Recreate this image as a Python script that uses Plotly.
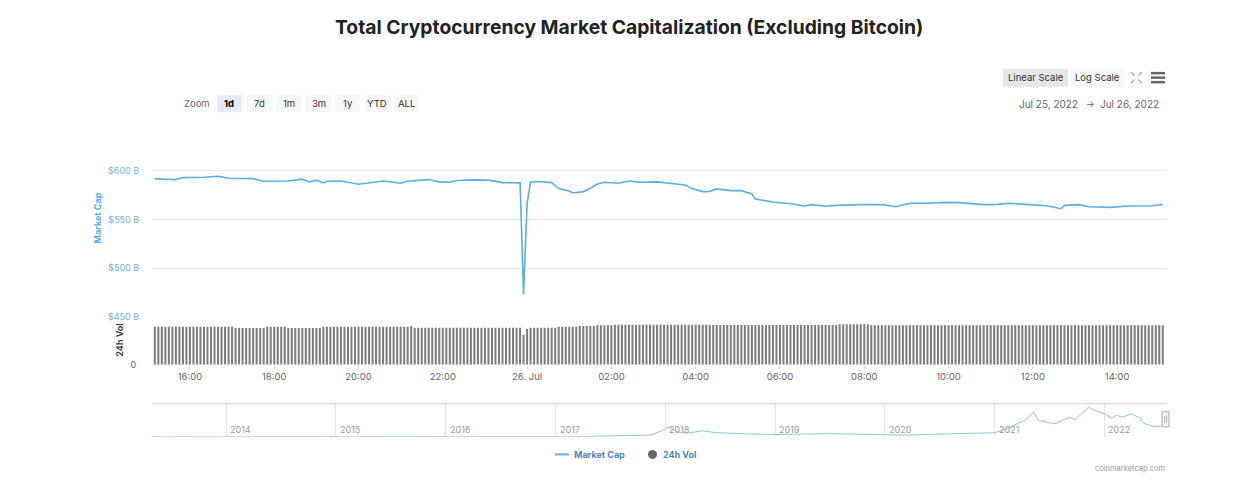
import plotly.graph_objects as go
import pandas as pd

# ---------------- data ----------------
cap_times = [
    "2022-07-25 15:10", "2022-07-25 15:40", "2022-07-25 15:50", "2022-07-25 16:20", "2022-07-25 16:40",
    "2022-07-25 16:55", "2022-07-25 17:30", "2022-07-25 17:45", "2022-07-25 18:20", "2022-07-25 18:40",
    "2022-07-25 18:50", "2022-07-25 19:00", "2022-07-25 19:10", "2022-07-25 19:15", "2022-07-25 19:35",
    "2022-07-25 20:00", "2022-07-25 20:35", "2022-07-25 21:00", "2022-07-25 21:10", "2022-07-25 21:40",
    "2022-07-25 21:55", "2022-07-25 22:10", "2022-07-25 22:20", "2022-07-25 22:45", "2022-07-25 23:05",
    "2022-07-25 23:25", "2022-07-25 23:50", "2022-07-25 23:55", "2022-07-26 00:00", "2022-07-26 00:05",
    "2022-07-26 00:15", "2022-07-26 00:35", "2022-07-26 00:45", "2022-07-26 01:00", "2022-07-26 01:05",
    "2022-07-26 01:20", "2022-07-26 01:30", "2022-07-26 01:40", "2022-07-26 01:50", "2022-07-26 02:10",
    "2022-07-26 02:25", "2022-07-26 02:40", "2022-07-26 03:05", "2022-07-26 03:25", "2022-07-26 03:45",
    "2022-07-26 03:55", "2022-07-26 04:10", "2022-07-26 04:20", "2022-07-26 04:30", "2022-07-26 04:50",
    "2022-07-26 05:05", "2022-07-26 05:20", "2022-07-26 05:25", "2022-07-26 05:50", "2022-07-26 06:15",
    "2022-07-26 06:35", "2022-07-26 06:45", "2022-07-26 07:05", "2022-07-26 07:20", "2022-07-26 07:55",
    "2022-07-26 08:25", "2022-07-26 08:45", "2022-07-26 09:05", "2022-07-26 09:30", "2022-07-26 10:00",
    "2022-07-26 10:15", "2022-07-26 10:50", "2022-07-26 11:10", "2022-07-26 11:25", "2022-07-26 11:50",
    "2022-07-26 12:20", "2022-07-26 12:40", "2022-07-26 12:45", "2022-07-26 13:05", "2022-07-26 13:20",
    "2022-07-26 13:50", "2022-07-26 14:15", "2022-07-26 14:50", "2022-07-26 15:05",
]
cap_values = [  # billions USD
    591.7, 591.0, 593.0, 593.4, 594.5,
    592.4, 592.0, 589.3, 589.6, 591.4,
    588.6, 590.4, 587.6, 589.3, 589.6,
    586.2, 589.6, 587.2, 589.3, 591.0,
    588.6, 588.3, 590.0, 590.7, 590.4,
    587.9, 587.6, 473.4, 566.6, 588.6,
    589.0, 587.9, 581.7, 579.3, 577.2,
    578.6, 582.0, 586.5, 588.3, 587.3,
    589.6, 588.3, 588.6, 586.9, 585.5,
    581.7, 578.6, 578.9, 581.4, 579.6,
    579.6, 576.2, 571.0, 567.9, 566.2,
    563.8, 565.2, 563.5, 564.5, 565.2,
    565.3, 563.1, 566.6, 566.6, 567.6,
    567.3, 565.2, 565.5, 566.6, 565.5,
    564.1, 561.0, 564.5, 565.2, 563.1,
    562.4, 563.8, 564.1, 565.5,
]

vol_start = "2022-07-25 15:10"   # one bar every 5 minutes
vol_values = [  # billions USD, 24h volume
    47.5, 47.5, 47.5, 47.5, 47.5, 47.5, 47.5, 47.5, 47.5, 47.5,
    47.5, 47.5, 47.5, 47.5, 47.5, 47.5, 47.5, 47.5, 47.5, 47.5, 47.5, 47.5,
    47.5, 45.9, 45.9, 45.9, 45.9, 45.9, 45.9, 45.9, 45.9, 45.9, 47.5, 47.5,
    47.5, 47.5, 47.5, 47.5, 45.9, 45.9, 45.9, 45.9, 45.9, 45.9, 45.9, 45.9,
    45.9, 45.9, 47.5, 47.5, 47.5, 47.5, 47.5, 47.5, 47.5, 47.5, 47.5, 47.5,
    47.5, 47.5, 47.5, 47.5, 47.5, 47.5, 47.5, 47.5, 47.5, 47.5, 47.5, 47.5,
    47.5, 47.5, 47.5, 48.4, 46.2, 46.2, 46.2, 46.2, 46.2, 46.2, 46.2, 46.2,
    46.2, 46.2, 46.2, 46.2, 46.2, 46.2, 46.2, 46.2, 46.2, 46.2, 46.2, 46.2,
    46.2, 46.2, 46.2, 46.2, 46.2, 46.2, 46.2, 46.2, 46.2, 46.2, 46.2, 37.5,
    44.6, 46.2, 46.2, 46.2, 46.2, 46.2, 46.2, 46.2, 46.2, 47.5, 47.5, 47.5,
    47.5, 47.5, 47.5, 48.4, 48.4, 48.4, 48.4, 48.4, 49.1, 49.1, 49.1, 49.1,
    49.1, 50.0, 50.0, 50.0, 50.0, 50.0, 50.0, 50.0, 50.0, 50.0, 50.0, 50.0,
    50.0, 50.0, 50.0, 50.0, 50.0, 50.0, 50.0, 50.0, 50.0, 50.0, 50.0, 50.0,
    50.0, 50.0, 50.0, 50.0, 49.6, 49.6, 49.6, 49.6, 49.6, 49.6, 49.6, 49.6,
    49.6, 49.6, 49.6, 49.6, 49.6, 49.6, 49.6, 49.6, 49.6, 49.6, 49.6, 49.6,
    49.6, 49.6, 49.6, 49.6, 49.6, 49.6, 49.6, 49.6, 49.6, 49.6, 49.6, 49.6,
    49.6, 49.6, 49.6, 49.6, 49.6, 50.4, 50.4, 50.4, 50.4, 50.4, 50.4, 50.4,
    50.4, 50.4, 49.1, 49.1, 49.1, 49.1, 49.1, 49.1, 49.1, 49.1, 49.1, 49.1,
    49.1, 49.1, 49.1, 49.1, 49.1, 49.1, 49.1, 49.1, 49.1, 49.1, 49.1, 49.1,
    49.1, 49.1, 49.1, 49.1, 49.1, 49.1, 49.1, 49.1, 49.1, 49.1, 49.1, 49.1,
    49.1, 49.1, 49.1, 49.1, 49.1, 49.1, 49.1, 49.1, 49.1, 49.1, 49.1, 49.1,
    49.1, 49.1, 49.1, 49.1, 49.1, 49.1, 49.1, 49.1, 49.1, 49.1, 49.1, 49.1,
    49.1, 49.1, 49.1, 49.1, 49.1, 49.1, 49.1, 49.1, 49.1, 49.1, 49.1, 49.1,
    49.1, 49.1, 49.1, 49.1, 49.1, 49.1, 49.1, 49.1, 49.1, 49.1, 49.1, 49.1,
    49.1, 49.1,
]
vol_times = pd.date_range(vol_start, periods=len(vol_values), freq="5min")

nav_dates = [
    "2013-04-29", "2013-12-01", "2014-06-01", "2015-01-01", "2015-06-01", "2016-01-01",
    "2016-06-01", "2017-01-01", "2017-04-01", "2017-06-15", "2017-09-01", "2017-11-15",
    "2017-12-20", "2018-01-10", "2018-02-10", "2018-03-15", "2018-05-05", "2018-06-15",
    "2018-09-01", "2018-12-15", "2019-01-01", "2019-06-25", "2019-09-01", "2019-12-31",
    "2020-03-15", "2020-06-01", "2020-09-01", "2020-12-31", "2021-01-20", "2021-02-20",
    "2021-04-15", "2021-05-11", "2021-05-25", "2021-06-20", "2021-07-20", "2021-09-05",
    "2021-09-25", "2021-10-20", "2021-11-09", "2021-12-01", "2021-12-31", "2022-01-24",
    "2022-02-10", "2022-03-01", "2022-03-30", "2022-04-30", "2022-05-12", "2022-06-18",
    "2022-07-10", "2022-07-26",
]
nav_values = [  # billions USD
    1, 2, 2, 1.5, 1, 1.5,
    3, 2.5, 10, 50, 80, 110,
    350, 565, 290, 220, 350, 250,
    190, 130, 135, 190, 160, 135,
    100, 150, 175, 240, 340, 560,
    1000, 1440, 950, 850, 760, 1150,
    1000, 1400, 1730, 1530, 1350, 1100,
    1250, 1150, 1330, 1100, 780, 580,
    650, 700,
]

y_tickvals = [450, 500, 550, 600, 650]
y_ticktext = ["$450 B", "$500 B", "$550 B", "$600 B", ""]
x_tickvals = ["2022-07-25 16:00", "2022-07-25 18:00", "2022-07-25 20:00", "2022-07-25 22:00",
              "2022-07-26 00:00", "2022-07-26 02:00", "2022-07-26 04:00", "2022-07-26 06:00",
              "2022-07-26 08:00", "2022-07-26 10:00", "2022-07-26 12:00", "2022-07-26 14:00"]
x_ticktext = ["16:00", "18:00", "20:00", "22:00", "26. Jul", "02:00", "04:00", "06:00",
              "08:00", "10:00", "12:00", "14:00"]
nav_tickvals = ["2014-01-01", "2015-01-01", "2016-01-01", "2017-01-01", "2018-01-01",
                "2019-01-01", "2020-01-01", "2021-01-01", "2022-01-01"]
nav_ticktext = ["2014", "2015", "2016", "2017", "2018", "2019", "2020", "2021", "2022"]
zoom_buttons = ["1d", "7d", "1m", "3m", "1y", "YTD", "ALL"]

# ---------------- style ----------------
W, H = 1257, 481
KY = 1.0125  # vertical calibration of the captured page
FONT = "Inter, 'Open Sans', sans-serif"
LINE_C = "#5aaee3"
VOL_C = "#7d7d7d"
GRID_C = "#e9e9e9"


def px(x):
    return x / W


def py(y):
    return 1 - y * KY / H


def note(x, y, text, size=10, color="#333333", xanchor="center", yanchor="middle", **kw):
    d = dict(x=px(x), y=py(y), xref="paper", yref="paper", showarrow=False, text=text,
             xanchor=xanchor, yanchor=yanchor, font=dict(family=FONT, size=size, color=color))
    d.update(kw)
    return d


fig = go.Figure()
fig.add_trace(go.Scatter(x=cap_times, y=cap_values, mode="lines", xaxis="x", yaxis="y",
                         line=dict(color=LINE_C, width=1.6), name="Market Cap", showlegend=False))
fig.add_trace(go.Bar(x=vol_times, y=vol_values, xaxis="x", yaxis="y2",
                     marker=dict(color=VOL_C, line=dict(width=0)), name="24h Vol", showlegend=False))
fig.add_trace(go.Scatter(x=nav_dates, y=nav_values, mode="lines", xaxis="x3", yaxis="y3",
                         line=dict(color="#8fc3e8", width=1), showlegend=False))

shapes = []
annotations = []

# title
annotations.append(note(628.5, 27, "<b>Total Cryptocurrency Market Capitalization (Excluding Bitcoin)</b>",
                        size=19.3, color="#222222"))

# scale buttons
shapes.append(dict(type="rect", xref="paper", yref="paper", x0=px(1003), x1=px(1068), y0=py(86.5), y1=py(68.5),
                   fillcolor="#e6e6e6", line=dict(width=0), layer="below"))
shapes.append(dict(type="rect", xref="paper", yref="paper", x0=px(1070.5), x1=px(1124), y0=py(86.5), y1=py(68.5),
                   fillcolor="#f7f7f7", line=dict(width=0), layer="below"))
annotations.append(note(1035.5, 77.5, "Linear Scale", size=9.5))
annotations.append(note(1097, 77.5, "Log Scale", size=9.5))
# fullscreen icon
cx, cy = 1136.5, 77.5
for sx in (-1, 1):
    for sy in (-1, 1):
        shapes.append(dict(type="line", xref="paper", yref="paper",
                           x0=px(cx + sx * 2), y0=py(cy + sy * 2), x1=px(cx + sx * 5.5), y1=py(cy + sy * 5.5),
                           line=dict(color="#9a9a9a", width=1.3)))
# hamburger menu
for yy in (73, 77.5, 82):
    shapes.append(dict(type="line", xref="paper", yref="paper", x0=px(1151), x1=px(1165), y0=py(yy), y1=py(yy),
                       line=dict(color="#666666", width=2.5)))

# zoom row
annotations.append(note(197.5, 103.5, "Zoom", size=9.5, color="#666666"))
btn_x = [(217, 242), (247, 272), (276, 301), (306, 331), (335, 360), (364.5, 390), (393.5, 419)]
for i, (lbl, (a, b)) in enumerate(zip(zoom_buttons, btn_x)):
    sel = i == 0
    shapes.append(dict(type="rect", xref="paper", yref="paper", x0=px(a), x1=px(b), y0=py(112), y1=py(95),
                       fillcolor="#e6ebf5" if sel else "#f7f7f7", line=dict(width=0), layer="below"))
    annotations.append(note((a + b) / 2, 103.5, "<b>%s</b>" % lbl if sel else lbl, size=9.5,
                            color="#000000" if sel else "#333333"))

# date range
annotations.append(note(1079.5, 103.5, "Jul 25, 2022", color="#666666", xanchor="right"))
annotations.append(note(1090.5, 103, "→", size=9, color="#666666"))
annotations.append(note(1161, 103.5, "Jul 26, 2022", color="#666666", xanchor="right"))

# axis titles
annotations.append(note(97, 218, "<b>Market Cap</b>", size=9, color=LINE_C, textangle=-90))
annotations.append(note(120, 340, "<b>24h Vol</b>", size=9, color="#444444", textangle=-90))

# navigator outline and handle
shapes.append(dict(type="line", xref="paper", yref="paper", x0=px(152), x1=px(1167), y0=py(403), y1=py(403),
                   line=dict(color="#cccccc", width=1)))
shapes.append(dict(type="rect", xref="paper", yref="paper", x0=px(1162), x1=px(1169), y0=py(426), y1=py(411),
                   fillcolor="#f2f2f2", line=dict(color="#a8a8a8", width=1)))
for xx in (1164.5, 1166.5):
    shapes.append(dict(type="line", xref="paper", yref="paper", x0=px(xx), x1=px(xx), y0=py(422), y1=py(415),
                       line=dict(color="#a8a8a8", width=0.8)))
# navigator year labels (placed at the year positions on the navigator axis)
for tv, tt in zip(nav_tickvals, nav_ticktext):
    annotations.append(dict(x=tv, xref="x3", y=py(428.5), yref="paper", showarrow=False, text=tt,
                            xanchor="left", yanchor="middle", xshift=2,
                            font=dict(family=FONT, size=9, color="#999999")))

# legend
shapes.append(dict(type="line", xref="paper", yref="paper", x0=px(555), x1=px(569), y0=py(453.5), y1=py(453.5),
                   line=dict(color=LINE_C, width=2)))
annotations.append(note(572, 453.5, "<b>Market Cap</b>", size=9, color="#4d84c4", xanchor="left"))
shapes.append(dict(type="circle", xref="paper", yref="paper", x0=px(648), x1=px(657), y0=py(458), y1=py(449),
                   fillcolor="#666666", line=dict(width=0)))
annotations.append(note(661, 453.5, "<b>24h Vol</b>", size=9, color="#4d84c4", xanchor="left"))

# credits
annotations.append(note(1167, 467.5, "coinmarketcap.com", size=7.5, color="#999999", xanchor="right"))

fig.update_layout(
    width=W, height=H, autosize=False,
    margin=dict(l=0, r=0, t=0, b=0),
    paper_bgcolor="white", plot_bgcolor="white",
    font=dict(family=FONT),
    showlegend=False,
    hovermode=False,
    bargap=0.42,
    shapes=shapes,
    annotations=annotations,
    xaxis=dict(domain=[px(152), px(1167)], anchor="y2", type="date",
               range=["2022-07-25 15:06", "2022-07-26 15:11"],
               tickvals=x_tickvals, ticktext=x_ticktext,
               ticks="outside", ticklen=3, tickcolor="#ccd6eb",
               tickfont=dict(family=FONT, size=9.5, color="#666666"),
               showgrid=False, showline=False, zeroline=False, fixedrange=True),
    yaxis=dict(domain=[py(316), py(122)], anchor="x", range=[450, 650],
               tickvals=y_tickvals, ticktext=y_ticktext,
               ticks="outside", ticklen=10, tickcolor="rgba(0,0,0,0)",
               tickfont=dict(family=FONT, size=9, color="#74b0e0"),
               showgrid=True, gridcolor=GRID_C, gridwidth=1, zeroline=False, showline=False),
    yaxis2=dict(domain=[py(364), py(316)], anchor="x", range=[0, 60],
                tickvals=[0], ticktext=["0"],
                ticks="outside", ticklen=13, tickcolor="rgba(0,0,0,0)",
                tickfont=dict(family=FONT, size=9, color="#666666"),
                showgrid=False, zeroline=False, showline=False),
    xaxis3=dict(domain=[px(152), px(1167)], anchor="y3", type="date",
                range=["2013-04-29", "2022-07-28"],
                tickvals=nav_tickvals, showticklabels=False, ticks="",
                showgrid=True, gridcolor="#e6e6e6", gridwidth=1, showline=False, zeroline=False),
    yaxis3=dict(domain=[py(436), py(403)], anchor="x3", range=[0, 1922],
                showticklabels=False, showgrid=False, zeroline=False, showline=False),
)

fig.write_html("out.html", config={"displayModeBar": False},
               post_script="document.body.style.margin='0px';document.body.style.overflow='hidden';")
